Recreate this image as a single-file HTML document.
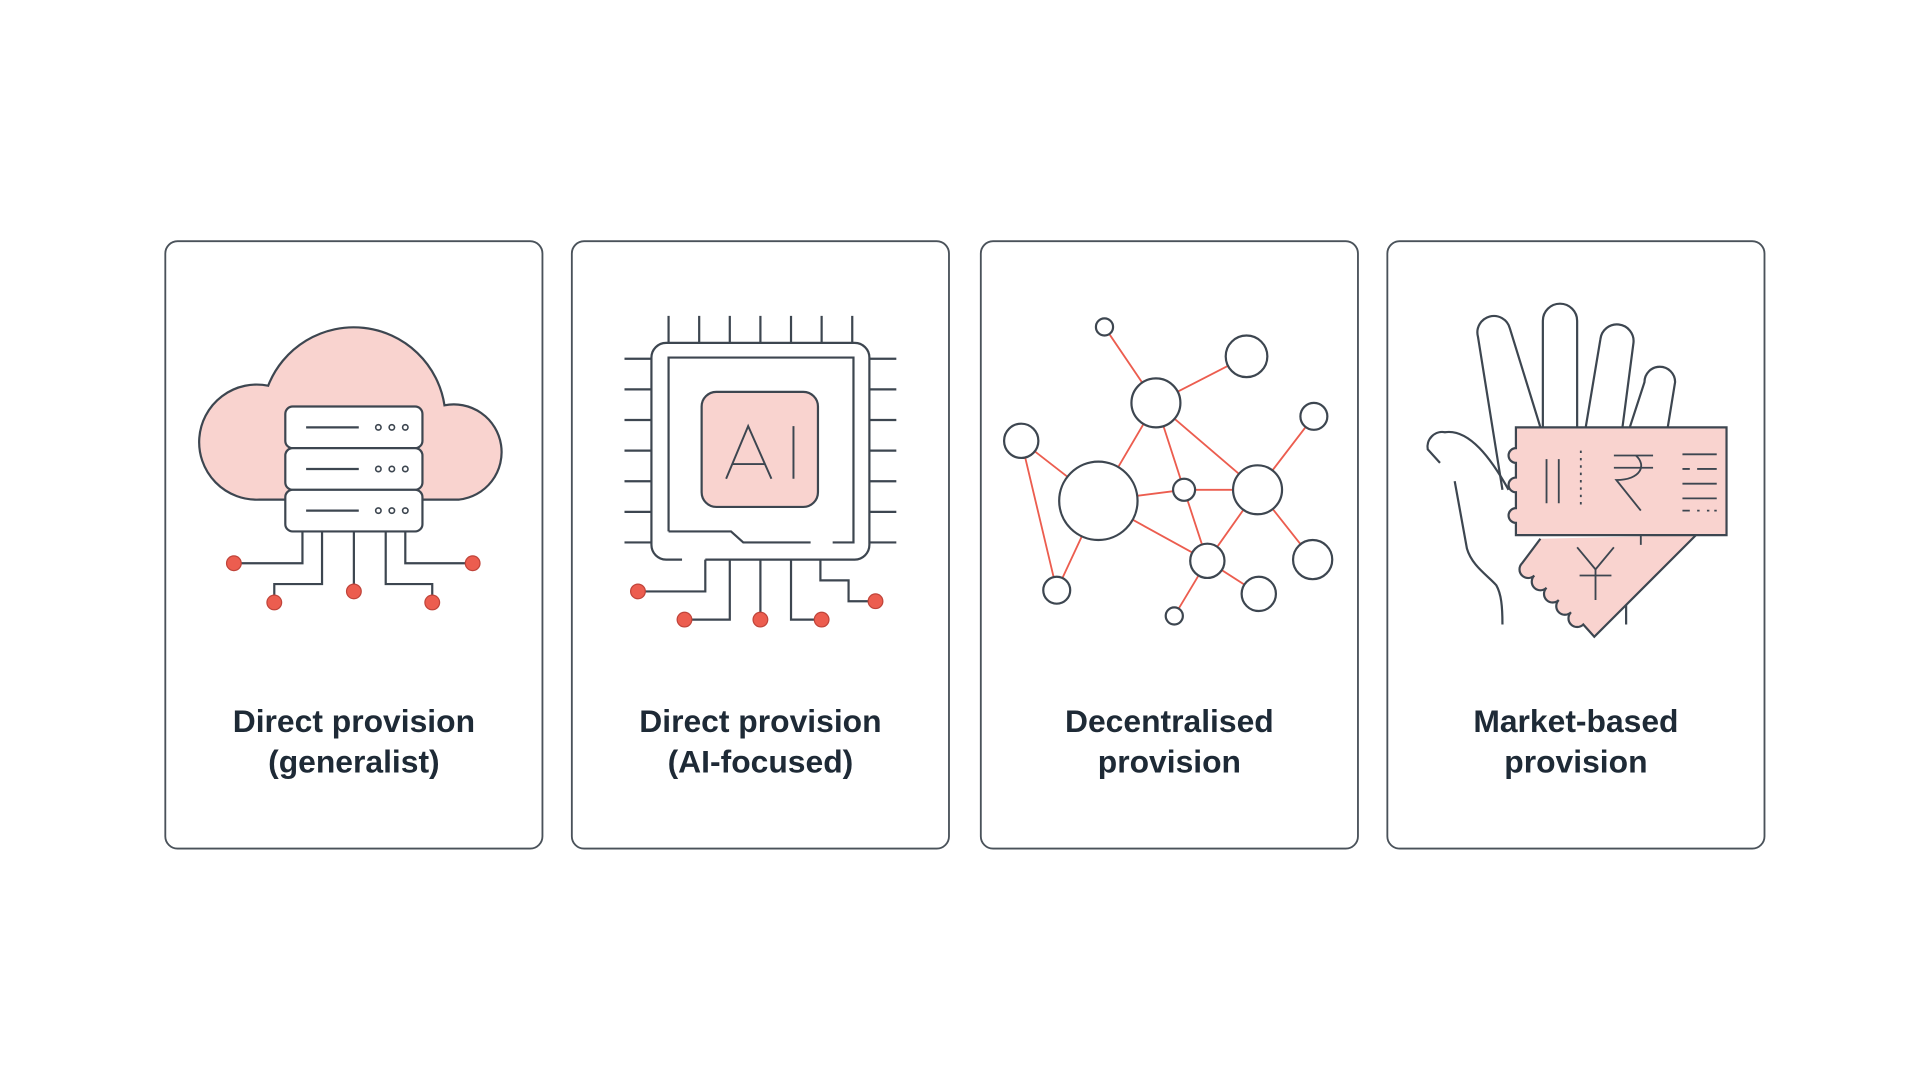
<!DOCTYPE html>
<html><head><meta charset="utf-8"><style>
html,body{margin:0;padding:0;background:#fff;width:1920px;height:1080px;overflow:hidden}
svg{display:block}
text{font-family:"Liberation Sans",sans-serif}
</style></head><body>
<svg width="1920" height="1080" viewBox="0 0 1568 882" xmlns="http://www.w3.org/2000/svg">
<g fill="#fff" stroke="#4a525a" stroke-width="1.5">
<rect x="135" y="197" width="308" height="496" rx="10"/>
<rect x="467" y="197" width="308" height="496" rx="10"/>
<rect x="801" y="197" width="308" height="496" rx="10"/>
<rect x="1133" y="197" width="308" height="496" rx="10"/>
</g>
<g font-weight="bold" font-size="26" fill="#1e2a36" text-anchor="middle">
<text x="289" y="598">Direct provision</text><text x="289" y="631">(generalist)</text>
<text x="621" y="598">Direct provision</text><text x="621" y="631">(AI-focused)</text>
<text x="955" y="598">Decentralised</text><text x="955" y="631">provision</text>
<text x="1287" y="598">Market-based</text><text x="1287" y="631">provision</text>
</g>
<!-- card1 -->
<g stroke="#3d4650" stroke-width="1.8" fill="none">
<path d="M212,408 A47,47 0 1 1 219,315 A75,75 0 0 1 363,331 A39,39 0 1 1 375,408 Z" fill="#f9d3cf"/>
<path d="M247,434V460H191M263,434V477H224V492M289,434V483M315,434V477H353V492M331,434V460H386"/>
<rect x="233" y="332" width="112" height="34" rx="6" fill="#fff"/>
<rect x="233" y="366" width="112" height="34" rx="6" fill="#fff"/>
<rect x="233" y="400" width="112" height="34" rx="6" fill="#fff"/>
<path d="M250,349H293M250,383H293M250,417H293"/>
<g stroke-width="1.3"><circle cx="309" cy="349" r="2.2"/><circle cx="320" cy="349" r="2.2"/><circle cx="331" cy="349" r="2.2"/>
<circle cx="309" cy="383" r="2.2"/><circle cx="320" cy="383" r="2.2"/><circle cx="331" cy="383" r="2.2"/>
<circle cx="309" cy="417" r="2.2"/><circle cx="320" cy="417" r="2.2"/><circle cx="331" cy="417" r="2.2"/></g>
<g fill="#ec5d4f" stroke="#c0443a" stroke-width="1"><circle cx="191" cy="460" r="6"/><circle cx="224" cy="492" r="6"/><circle cx="289" cy="483" r="6"/><circle cx="353" cy="492" r="6"/><circle cx="386" cy="460" r="6"/></g>
</g>
<!-- card2 -->
<g stroke="#3d4650" stroke-width="1.8" fill="none">
<path d="M546,258V280M571,258V280M596,258V280M621,258V280M646,258V280M671,258V280M696,258V280"/>
<path d="M510,293H532M510,318H532M510,343H532M510,368H532M510,393H532M510,418H532M510,443H532M710,293H732M710,318H732M710,343H732M710,368H732M710,393H732M710,418H732M710,443H732"/>
<path d="M557,457H544A12,12 0 0 1 532,445V292A12,12 0 0 1 544,280H698A12,12 0 0 1 710,292V445A12,12 0 0 1 698,457H576"/>
<path d="M546,434V292H697V443H680M662,443H607L597,434H546"/>
<rect x="573" y="320" width="95" height="94" rx="12" fill="#f9d3cf"/>
<path d="M593,391L611,348L630,391M598,379H625M648,348V391" stroke-width="1.6"/>
<path d="M576,457V483H521M596,457V506H559M621,457V506M646,457V506H671M670,457V474H693V491H715"/>
<g fill="#ec5d4f" stroke="#c0443a" stroke-width="1"><circle cx="521" cy="483" r="6"/><circle cx="559" cy="506" r="6"/><circle cx="621" cy="506" r="6"/><circle cx="671" cy="506" r="6"/><circle cx="715" cy="491" r="6"/></g>
</g>
<!-- card3 -->
<g stroke="#ec5d4f" stroke-width="1.5">
<path d="M902,267L944,329M944,329L1018,291M944,329L897,409M944,329L967,400M944,329L1027,400M834,360L897,409M834,360L863,482M863,482L897,409M897,409L967,400M967,400L1027,400M897,409L986,458M967,400L986,458M1027,400L986,458M1027,400L1073,340M1027,400L1072,457M986,458L1028,485M986,458L959,503"/>
</g>
<g stroke="#3d4650" stroke-width="1.8" fill="#fff">
<circle cx="902" cy="267" r="7"/><circle cx="1018" cy="291" r="17"/><circle cx="944" cy="329" r="20"/><circle cx="834" cy="360" r="14"/><circle cx="1073" cy="340" r="11"/><circle cx="897" cy="409" r="32"/><circle cx="967" cy="400" r="9"/><circle cx="1027" cy="400" r="20"/><circle cx="986" cy="458" r="14"/><circle cx="1072" cy="457" r="16"/><circle cx="863" cy="482" r="11"/><circle cx="1028" cy="485" r="14"/><circle cx="959" cy="503" r="7"/>
</g>
<!-- card4 -->
<g stroke="#3d4650" stroke-width="1.8" fill="none">
<path d="M1227,400L1207,275A13,13 0 0 1 1233,268L1258,349"/>
<path d="M1260,349V262A14,14 0 0 1 1288,262V349"/>
<path d="M1295,349L1307,277A13,13 0 0 1 1334,280L1325,349"/>
<path d="M1331,349L1343,312A12,12 0 0 1 1368,312L1362,349"/>
<path d="M1176,378L1166,367A12,12 0 0 1 1180,353C1200,350 1218,375 1232,400"/>
<path d="M1188,393L1198,448C1202,462 1215,470 1222,478C1226,485 1227,495 1227,510"/>
<path d="M1328,488V510"/>
<path d="M1258,440L1243,460A5,5 0 0 0 1253,470A5,5 0 0 0 1263,480A5,5 0 0 0 1273,490A5,5 0 0 0 1283,500A5,5 0 0 0 1293,510L1302,520L1385,437" fill="#f9d3cf"/>
<path d="M1238,349H1410V437H1238V427A6,6 0 0 1 1238,415V402A6,6 0 0 1 1238,390V378A6,6 0 0 1 1238,366V349Z" fill="#f9d3cf"/>
<g stroke-width="1.5">
<path d="M1263,375V411M1273,375V411"/>
<path d="M1291,368V414" stroke-dasharray="2,4"/>
<path d="M1318,372H1350M1318,382H1350M1336,372C1345,380 1340,392 1320,392L1340,417"/>
<path d="M1374,371H1402M1374,383H1380M1386,383H1402M1374,395H1402M1374,407H1402M1374,417H1380M1386,417H1388M1394,417H1396M1400,417H1402"/>
<path d="M1288,447L1303,465L1318,447M1303,465V490M1290,470H1316M1340,437V445"/>
</g>
</g>
</svg>
</body></html>
